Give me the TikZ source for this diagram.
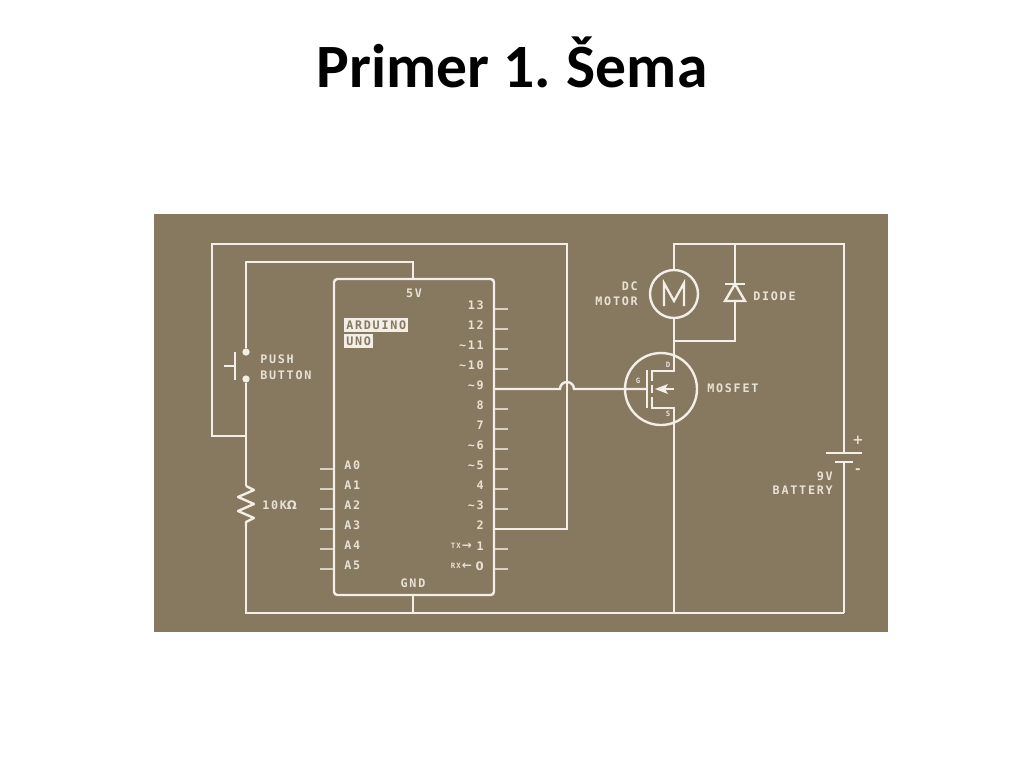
\documentclass[tikz,border=0pt]{standalone}
\usepackage{fontspec}
\setmainfont{Carlito}
\newfontfamily\lab[LetterSpace=15]{DejaVu Sans Mono}
\newfontfamily\labb[LetterSpace=15]{DejaVu Sans}
\newfontfamily\arw{DejaVu Sans}
\definecolor{bgc}{HTML}{877860}
\definecolor{ink}{HTML}{F3EEE6}
\definecolor{txt}{HTML}{E8E2D5}
\tikzset{
  wire/.style={draw=ink,line width=1.8pt,line join=miter},
  stub/.style={draw=ink!75!bgc,line width=1pt},
  lbl/.style={text=txt,inner sep=0pt,font=\lab\bfseries\fontsize{8.8}{10}\selectfont},
  plbl/.style={lbl,anchor=east},
  alab/.style={lbl,anchor=west},
  hl/.style={fill=ink,text=bgc,inner sep=0pt,minimum height=10.5pt,anchor=west,font=\lab\bfseries\fontsize{8.8}{10}\selectfont,inner xsep=1.5pt},
  dot/.style={circle,fill=ink,inner sep=0pt,minimum size=5.5pt},
  mini/.style={text=txt,inner sep=0pt,font=\lab\bfseries\fontsize{5.5}{6}\selectfont}
}
\begin{document}
\begin{tikzpicture}[x=0.75pt,y=-0.75pt]
\useasboundingbox (0,0) rectangle (1024,768);
\fill[white] (0,0) rectangle (1024,768);
\fill[bgc] (154,214) rectangle (888,632);
\node[inner sep=0pt,font=\fontsize{46.2}{54}\selectfont\bfseries] (title) at (512,62.5) {Primer 1.\hspace{-0.04em} Šema};

% board
\node[draw=ink,line width=1.8pt,rounded corners=2.5pt,minimum width=120pt,minimum height=237pt,inner sep=0pt] (board) at (414,437) {};
\coordinate (fivev) at (413,279);
\coordinate (gnd) at (413,595);
\coordinate (pinnine) at (494,389);
\coordinate (pintwo) at (494,529);

% pins, right
\foreach \i/\t in {0/13,1/12,2/{\textasciitilde 11},3/{\textasciitilde 10},4/{\textasciitilde 9},5/8,6/7,7/{\textasciitilde 6},8/{\textasciitilde 5},9/4,10/{\textasciitilde 3},11/2}{
  \node[plbl] (r\i) at (484,305+20*\i) {\t};
}
\foreach \i in {0,1,2,3,5,6,7,8,9,10,12,13}{
  \coordinate (sa\i) at (495,309+20*\i);
  \coordinate (sb\i) at (508,309+20*\i);
  \draw[stub] (sa\i) -- (sb\i);
}
\node[plbl] (r12) at (484,546) {1};
\node[plbl] (r13) at (484,566) {\labb\bfseries 0};
\node[mini,anchor=east] (tx) at (461,546) {TX};
\node[mini,anchor=east] (rx) at (461,566) {RX};
\node[text=txt,inner sep=0pt,font=\arw\bfseries\fontsize{9}{10}\selectfont] (txa) at (467,546) {→};
\node[text=txt,inner sep=0pt,font=\arw\bfseries\fontsize{9}{10}\selectfont] (rxa) at (467,566) {←};

% pins, left
\foreach \i/\t in {0/A0,1/A1,2/A2,3/A3,4/A4,5/A5}{
  \node[alab] (l\i) at (344,465.5+20*\i) {\t};
  \coordinate (la\i) at (320,469+20*\i);
  \coordinate (lb\i) at (333,469+20*\i);
  \draw[stub] (la\i) -- (lb\i);
}
\node[lbl] (vlab) at (414,293) {5V};
\node[lbl] (gndlab) at (413,583.5) {GND};
\node[hl] (ard) at (344,325) {ARDUINO};
\node[hl] (uno) at (344,341) {UNO};

% push button and resistor
\node[dot] (btop) at (246,352) {};
\node[dot] (bbot) at (246,379) {};
\coordinate (junc) at (246,436);
\coordinate (rt) at (246,486);
\coordinate (rb) at (246,526);
\coordinate (botl) at (246,613);
\coordinate (botm) at (413,613);
\coordinate (both) at (674,613);
\coordinate (botr) at (844,613);
\draw[wire] (fivev) -- (413,262) -- (246,262) -- (btop);
\draw[wire] (bbot) -- (junc) -- (rt);
\draw[wire,line join=round] (rt) -- ++(8,4) -- ++(-16,7) -- ++(16,7) -- ++(-16,7) -- ++(16,7) -- ++(-8,4) -- (rb);
\draw[wire] (rb) -- (botl) -- (botr);
\draw[wire] (gnd) -- (botm);
\draw[wire] (235,352) -- (235,380);
\draw[wire] (224,366) -- (235,366);
\node[lbl,anchor=west] (pushl) at (260,359) {PUSH};
\node[lbl,anchor=west] (buttl) at (260,375) {BUTTON};
\node[lbl,anchor=west] (ohm) at (262,505) {10K\labb\bfseries Ω};

% outer loop
\draw[wire] (junc) -- (212,436) -- (212,244) -- (567,244) -- (567,529) -- (pintwo);

% motor and diode
\node[draw=ink,line width=1.8pt,circle,minimum size=36pt,inner sep=0pt] (motor) at (674,294) {};
\draw[draw=ink,line width=1.7pt,line join=miter] (664,306) -- (664,283) -- (674,301) -- (684,283) -- (684,306);
\coordinate (tm) at (674,244);
\coordinate (td) at (735,244);
\coordinate (tr) at (844,244);
\coordinate (jd) at (674,341);
\coordinate (bd) at (735,341);
\coordinate (dcat) at (735,284);
\coordinate (dan) at (735,301);
\draw[wire] (motor.north) -- (tm) -- (tr) -- (844,453);
\draw[wire] (td) -- (dcat);
\draw[wire] (dan) -- (bd) -- (jd);
\draw[wire] (725,284) -- (745,284);
\draw[wire] (725,301) -- (745,301) -- (735,284) -- cycle;
\node[lbl,anchor=east] (dcl) at (638,286) {DC};
\node[lbl,anchor=east] (motl) at (638,301) {MOTOR};
\node[lbl,anchor=west] (diol) at (753,296.5) {DIODE};

% mosfet
\node[draw=ink,line width=1.8pt,circle,minimum size=54pt,inner sep=0pt] (fet) at (661,389) {};
\coordinate (gate) at (647,389);
\coordinate (dtop) at (674,371);
\coordinate (stop) at (674,408);
\draw[wire] (motor.south) -- (dtop) -- (652,371) -- (652,381);
\draw[wire] (652,385) -- (652,393);
\draw[wire] (652,397) -- (652,408) -- (stop) -- (both);
\draw[wire] (647,370) -- (647,408);
\draw[wire] (674,389) -- (663,389);
\fill[ink] (655,389) -- (668,384) -- (665,389) -- (668,394) -- cycle;
\draw[wire] (pinnine) -- (560,389) arc[start angle=180,end angle=360,radius=7] -- (gate);
\node[mini] (gl) at (638,381) {G};
\node[mini] (dl) at (668,365) {D};
\node[mini] (sl) at (668,414) {S};
\node[lbl,anchor=west] (mosl) at (707,388.5) {MOSFET};

% battery
\draw[wire] (826,453) -- (862,453);
\draw[wire] (835,462) -- (853,462);
\draw[wire] (844,462) -- (botr);
\node[text=txt,inner sep=0pt,font=\arw\bfseries\fontsize{10}{10}\selectfont] (plus) at (858,440) {+};
\node[text=txt,inner sep=0pt,font=\arw\bfseries\fontsize{10}{10}\selectfont] (minus) at (858,471) {-};
\node[lbl,anchor=east] (nv) at (833,476) {9V};
\node[lbl,anchor=east] (batl) at (833,490) {BATTERY};
\end{tikzpicture}
\end{document}
